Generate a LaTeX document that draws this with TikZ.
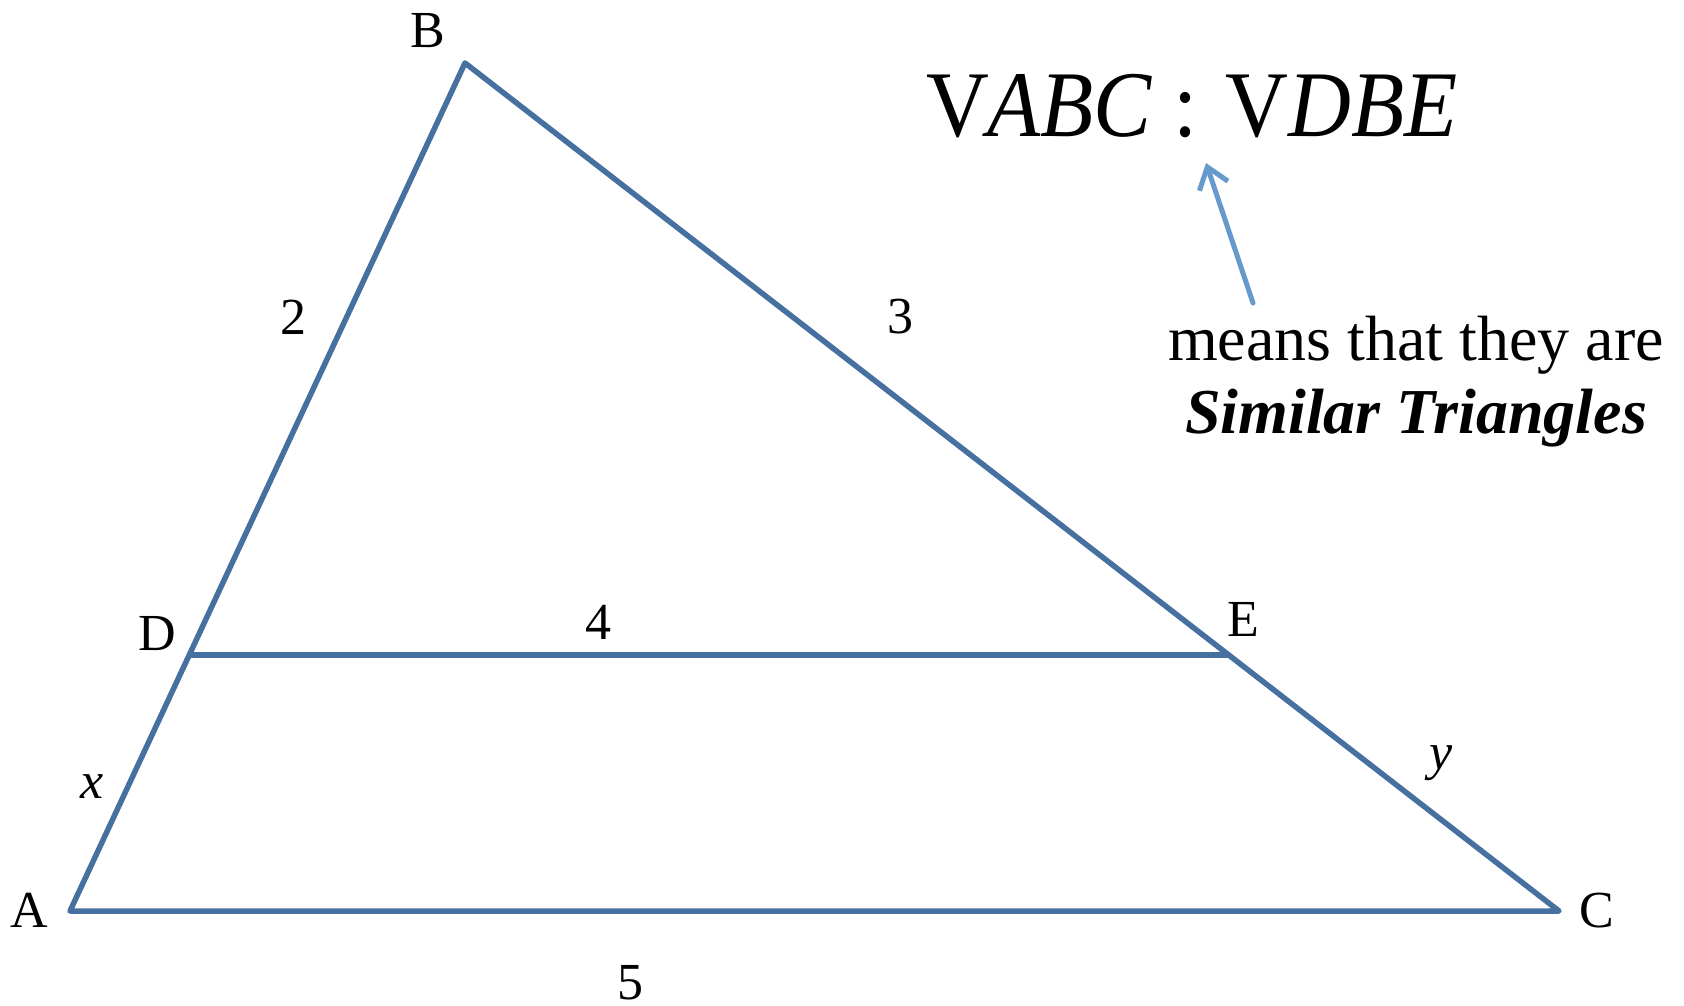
\documentclass[tikz,border=0pt]{standalone}
\usepackage{fontspec}
\setmainfont{Liberation Serif}
\usetikzlibrary{arrows.meta}
\definecolor{triblue}{RGB}{70,112,160}
\definecolor{arrblue}{RGB}{102,153,204}
\tikzset{
  side/.style={draw=triblue, line width=5.5pt, line join=round, line cap=round},
  vlabel/.style={inner sep=0pt, font=\fontsize{52}{60}\selectfont},
  nlabel/.style={inner sep=0pt, font=\fontsize{52}{60}\selectfont},
  pointer/.style={draw=arrblue, line width=5pt, line cap=round, -{Straight Barb[length=20pt,width=30pt,line width=5pt]}}
}
\begin{document}
\begin{tikzpicture}[x=1pt,y=-1pt]
\useasboundingbox (0,0) rectangle (1684,1006);
\coordinate (A) at (70,911);
\coordinate (B) at (465,63);
\coordinate (C) at (1559,911);
\coordinate (D) at (192,655);
\coordinate (E) at (1228,655);
\draw[side] (A) -- (B) -- (C) -- cycle;
\draw[side] (D) -- (E);
\node[vlabel] (lA) at (29,910) {A};
\node[vlabel] (lB) at (428,31) {B};
\node[vlabel] (lC) at (1597,911) {C};
\node[vlabel] (lD) at (157,634) {D};
\node[vlabel] (lE) at (1243,619) {E};
\node[nlabel] (n2) at (293,317) {2};
\node[nlabel] (n3) at (900,317) {3};
\node[nlabel] (n4) at (598,622) {4};
\node[nlabel] (n5) at (630,983) {5};
\node[nlabel] (nx) at (92,787) {\itshape x};
\node[nlabel] (ny) at (1441,763) {\itshape y};
\node[inner sep=0pt, anchor=base west] (sim) at (926,137) {\scalebox{1}[1.08]{\fontsize{87}{95}\selectfont V\kern-0.02em\textit{ABC}\hspace{21pt}:\hspace{28pt}V\textit{DBE}}};
\node[inner sep=0pt, align=center, font=\fontsize{64}{73}\selectfont, anchor=north] (expl) at (1416,316) {means that they are\\\textbf{\textit{Similar Triangles}}};
\coordinate (tail) at (1253,303);
\coordinate (tip) at (1206,163);
\draw[pointer] (tail) -- (tip);
\end{tikzpicture}
\end{document}
